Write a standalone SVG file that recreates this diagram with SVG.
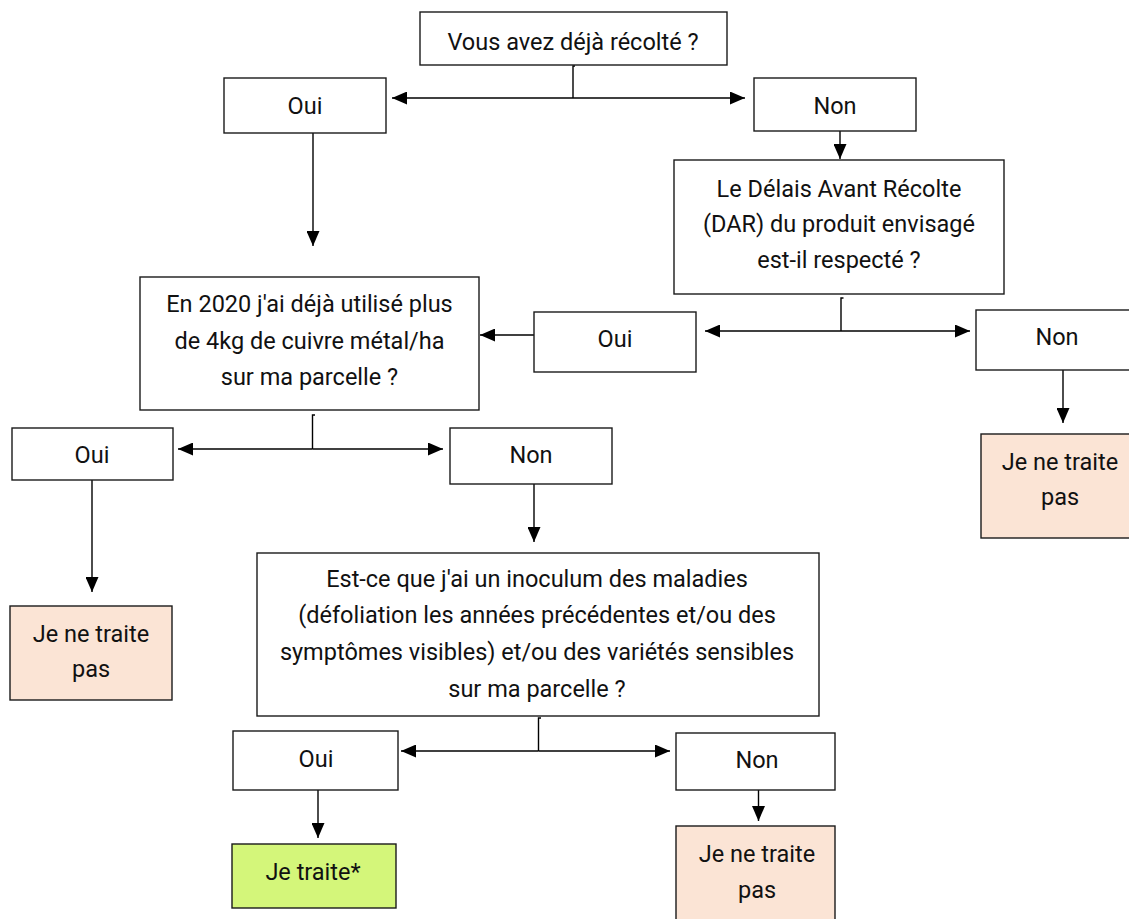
<svg xmlns="http://www.w3.org/2000/svg" width="1129" height="919" viewBox="0 0 1129 919">
<style>
.b{fill:#fff;stroke:#1a1a1a;stroke-width:1.4}
.no{fill:#FBE4D5;stroke:#1a1a1a;stroke-width:1.4}
.yes{fill:#D4F67A;stroke:#1a1a1a;stroke-width:1.4}
.t{font-family:Roboto,"Liberation Sans",sans-serif;font-size:23.5px;fill:#111;text-anchor:middle}
.c{fill:none;stroke:#000;stroke-width:1.4}
.a{marker-end:url(#ah)}
</style>
<defs>
<marker id="ah" viewBox="0 0 15 13" refX="15" refY="6.5" markerWidth="15" markerHeight="13" orient="auto" markerUnits="userSpaceOnUse"><path d="M0,0 L15,6.5 L0,13 z" fill="#000"/></marker>
</defs>
<rect width="1129" height="919" fill="#fff"/>
<g id="connectors">
<path class="c" d="M575,66 H573 V98"/>
<path class="c a" d="M573,98 H392"/>
<path class="c a" d="M573,98 H745"/>
<path class="c a" d="M313,133 V246"/>
<path class="c a" d="M840,131 V159"/>
<path class="c" d="M843.5,298 H841 V331"/>
<path class="c a" d="M841,331 H705"/>
<path class="c a" d="M841,331 H970"/>
<path class="c a" d="M534,335 H480"/>
<path class="c a" d="M1063,362 V423"/>
<path class="c" d="M315,415 H312.5 V449"/>
<path class="c a" d="M312.5,449 H178"/>
<path class="c a" d="M312.5,449 H443"/>
<path class="c a" d="M92,480 V592"/>
<path class="c a" d="M534,478 V542"/>
<path class="c" d="M541,718 H538.5 V751"/>
<path class="c a" d="M538.5,751 H401"/>
<path class="c a" d="M538.5,751 H670"/>
<path class="c a" d="M318,787 V838"/>
<path class="c a" d="M758.5,787 V821"/>
</g>
<g id="q1"><rect class="b" x="420" y="12" width="307" height="53"/><text class="t" x="573" y="50">Vous avez déjà récolté ?</text></g>
<g id="oui1"><rect class="b" x="224" y="78" width="162" height="55"/><text class="t" x="305" y="114">Oui</text></g>
<g id="non1"><rect class="b" x="754" y="78" width="162" height="53"/><text class="t" x="835" y="114">Non</text></g>
<g id="q2"><rect class="b" x="674" y="160" width="330" height="134"/><text class="t" x="839" y="197">Le Délais Avant Récolte</text><text class="t" x="839" y="232">(DAR) du produit envisagé</text><text class="t" x="839" y="268">est-il respecté ?</text></g>
<g id="oui2"><rect class="b" x="534" y="312" width="162" height="60"/><text class="t" x="615" y="347">Oui</text></g>
<g id="non2"><rect class="b" x="976" y="310" width="162" height="60"/><text class="t" x="1057" y="345">Non</text></g>
<g id="stop1"><rect class="no" x="981" y="434" width="160" height="104"/><text class="t" x="1060" y="470">Je ne traite</text><text class="t" x="1060" y="505">pas</text></g>
<g id="q3"><rect class="b" x="140" y="277" width="339" height="133"/><text class="t" x="309.5" y="312">En 2020 j'ai déjà utilisé plus</text><text class="t" x="309.5" y="349">de 4kg de cuivre métal/ha</text><text class="t" x="309.5" y="385">sur ma parcelle ?</text></g>
<g id="oui3"><rect class="b" x="12" y="428" width="161" height="52"/><text class="t" x="92" y="463">Oui</text></g>
<g id="non3"><rect class="b" x="450" y="428" width="162" height="56"/><text class="t" x="531" y="463">Non</text></g>
<g id="stop2"><rect class="no" x="10" y="606" width="162" height="94"/><text class="t" x="91" y="642">Je ne traite</text><text class="t" x="91" y="677">pas</text></g>
<g id="q4"><rect class="b" x="257" y="553" width="562" height="163"/><text class="t" x="537" y="587">Est-ce que j'ai un inoculum des maladies</text><text class="t" x="537" y="623">(défoliation les années précédentes et/ou des</text><text class="t" x="537" y="660">symptômes visibles) et/ou des variétés sensibles</text><text class="t" x="537" y="697">sur ma parcelle ?</text></g>
<g id="oui4"><rect class="b" x="233" y="731" width="165" height="59"/><text class="t" x="316" y="767">Oui</text></g>
<g id="non4"><rect class="b" x="676" y="733" width="159" height="57"/><text class="t" x="757" y="768">Non</text></g>
<g id="treat"><rect class="yes" x="232" y="844" width="164" height="64"/><text class="t" x="313" y="880">Je traite*</text></g>
<g id="stop3"><rect class="no" x="676" y="826" width="159" height="104"/><text class="t" x="757" y="862">Je ne traite</text><text class="t" x="757" y="898">pas</text></g>
</svg>
